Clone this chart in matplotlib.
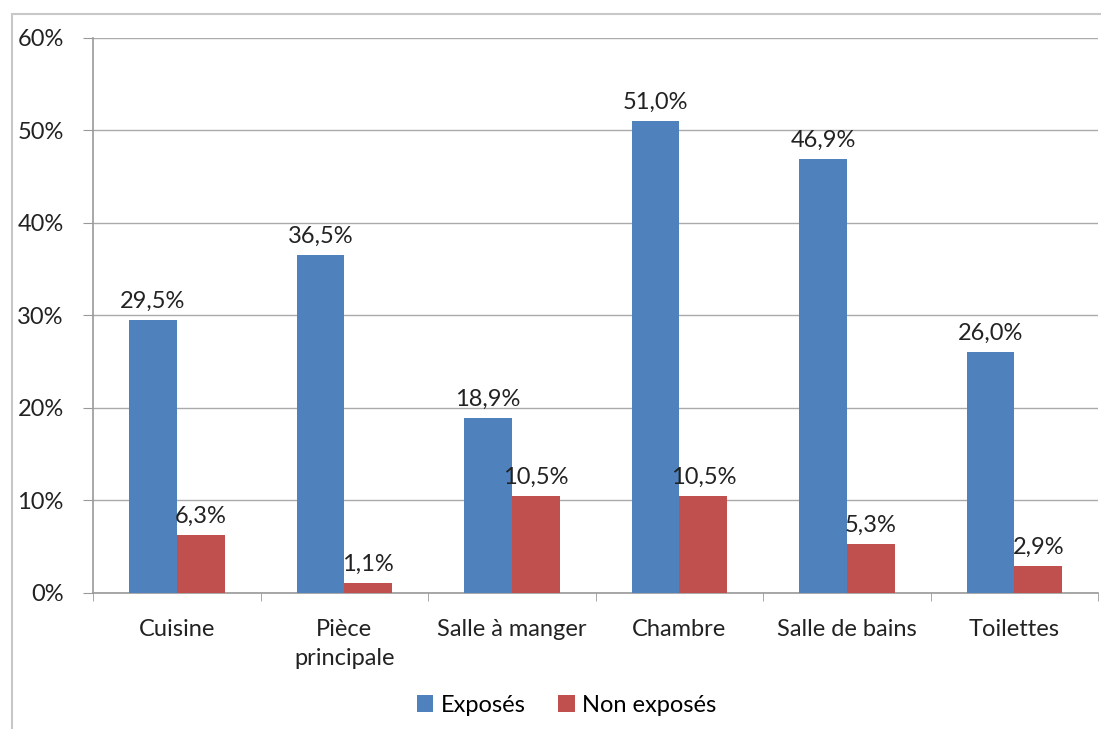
import matplotlib
matplotlib.use("Agg")
import matplotlib.pyplot as plt
from matplotlib.patches import Rectangle
import numpy as np

categories = ["Cuisine", "Pièce\nprincipale", "Salle à manger", "Chambre", "Salle de bains", "Toilettes"]
exposes = [29.5, 36.5, 18.9, 51.0, 46.9, 26.0]
non_exposes = [6.3, 1.1, 10.5, 10.5, 5.3, 2.9]

plt.rcParams['font.family'] = ['Lato', 'DejaVu Sans']

fig = plt.figure(figsize=(11.01, 7.29), dpi=100)
ax = fig.add_axes([0.0845, 0.1866, 0.913, 0.7613])

# outer frame of the chart area
fig.patches.append(Rectangle((12/1101, -0.1), 1.2, 1 - 14/729 + 0.1, transform=fig.transFigure,
                             fill=False, edgecolor='#c8c8c8', linewidth=1.5))

x = np.arange(len(categories))
w = 0.285
b1 = ax.bar(x - w/2, exposes, w, color='#4F81BD', label='Exposés', zorder=3)
b2 = ax.bar(x + w/2, non_exposes, w, color='#C0504D', label='Non exposés', zorder=3)

for bars, vals in ((b1, exposes), (b2, non_exposes)):
    for r, v in zip(bars, vals):
        ax.text(r.get_x() + r.get_width()/2, v + 0.9, f"{v:.1f}%".replace('.', ','),
                ha='center', va='bottom', fontsize=17, color='#222222')

ax.set_xlim(-0.5, len(categories) - 0.5)
ax.set_ylim(0, 60)
ax.set_yticks(range(0, 61, 10))
ax.set_yticklabels([f"{t}%" for t in range(0, 61, 10)], fontsize=17, color='#222222')
ax.set_xticks(x)
ax.set_xticklabels(categories, fontsize=17, color='#222222', linespacing=1.45)
ax.tick_params(axis='x', length=0, pad=19)
ax.set_xticks(np.arange(-0.5, len(categories)), minor=True)
ax.tick_params(axis='x', which='minor', length=6, color='#999999')
ax.tick_params(axis='y', length=7, color='#999999', pad=14)

ax.yaxis.grid(True, color='#aaaaaa', linewidth=1, zorder=0)
for s in ('top', 'right'):
    ax.spines[s].set_visible(False)
for s in ('left', 'bottom'):
    ax.spines[s].set_color('#999999')
    ax.spines[s].set_linewidth(1.2)

ax.legend(loc='center', bbox_to_anchor=(0.471, -0.202), ncol=2, frameon=False,
          fontsize=17, handlelength=0.7, handleheight=0.7, handletextpad=0.3, columnspacing=1.4)

fig.savefig("out.png", dpi=100)
